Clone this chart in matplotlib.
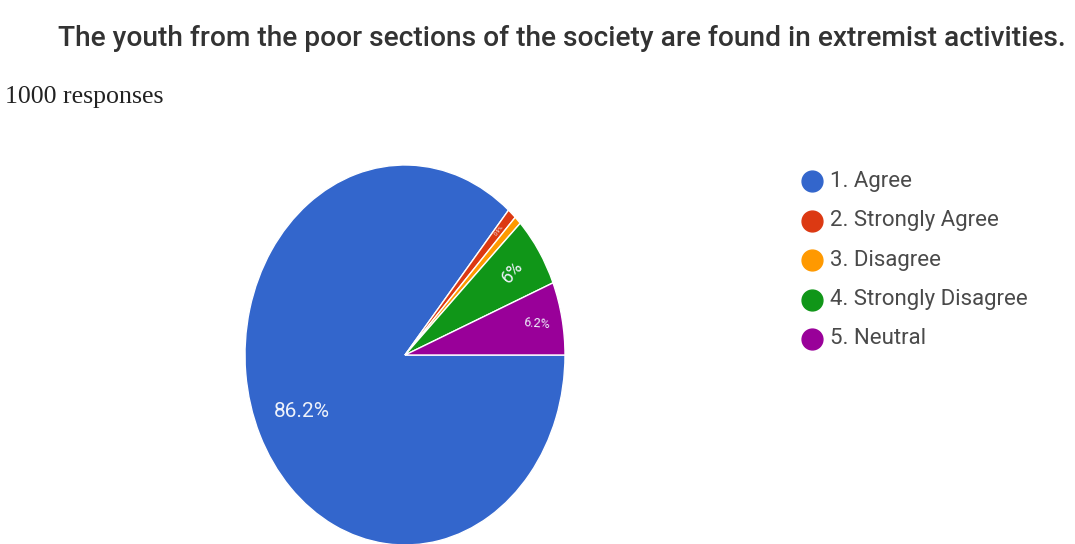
import matplotlib
matplotlib.use('Agg')
import numpy as np
import matplotlib.pyplot as plt
from matplotlib.lines import Line2D

categories = ['1. Agree', '2. Strongly Agree', '3. Disagree', '4. Strongly Disagree', '5. Neutral']
shares = [86.2, 0.9, 0.7, 6.0, 6.2]
pct_labels = ['86.2%', '0.9%', '', '6%', '6.2%']
colors = ['#3366cc', '#dc3912', '#ff9900', '#109618', '#990099']
title = 'The youth from the poor sections of the society are found in extremist activities.'
subtitle = '1000 responses'

W, H = 1075, 544
fig = plt.figure(figsize=(W / 100, H / 100), dpi=100)

# the screenshot is stretched: the pie is 160 px per unit across and 190 px per unit down
cx, cy, rx, ry = 405, 355, 160, 190
lim = 1.05
ax = fig.add_axes([(cx - rx * lim) / W, (H - cy - ry * lim) / H, 2 * rx * lim / W, 2 * ry * lim / H])
wedges, _ = ax.pie(shares, colors=colors, startangle=0, counterclock=False,
                   wedgeprops=dict(edgecolor='white', linewidth=1))
ax.set_aspect('auto')
ax.set_xlim(-lim, lim)
ax.set_ylim(-lim, lim)

# (radius, fontsize, rotation) for the labels inside the slices
label_style = [(0.71, 15, 0), (0.88, 4, 52), None, (0.8, 13, 50), (0.84, 9, -5)]
for w, lab, st in zip(wedges, pct_labels, label_style):
    if st is None or not lab:
        continue
    r, fs, rot = st
    mid = np.deg2rad((w.theta1 + w.theta2) / 2)
    ax.text(r * np.cos(mid), r * np.sin(mid), lab, ha='center', va='center',
            fontsize=fs, rotation=rot, color='#eef2fa', family='Roboto')

# legend drawn by hand to sit where the screenshot has it
leg_texts = []
for i, (lab, col) in enumerate(zip(categories, colors)):
    y = 1 - (181 + i * 39.5) / H
    fig.add_artist(Line2D([812 / W], [y], marker='o', markersize=15, color=col,
                          linestyle='none', transform=fig.transFigure))
    leg_texts.append(fig.text(830 / W, y, lab, fontsize=12.5, color='#4a4a4a',
                              va='center', family='Roboto'))

t1 = fig.text(58 / W, 1 - 38 / H, title, va='center', ha='left', fontsize=20,
              color='#333333', family='Roboto', fontweight='medium')
t2 = fig.text(5 / W, 1 - 97 / H, subtitle, va='center', ha='left', fontsize=14,
              color='#222222', family='Liberation Serif')

# squeeze the font sizes so the texts span the same width as in the screenshot
fig.canvas.draw()
rend = fig.canvas.get_renderer()
for t, target in [(t1, 1010), (t2, 160)]:
    wpx = t.get_window_extent(rend).width
    t.set_fontsize(t.get_fontsize() * target / wpx)
scale = 198 / leg_texts[3].get_window_extent(rend).width
for t in leg_texts:
    t.set_fontsize(t.get_fontsize() * scale)

fig.savefig('out.png', dpi=100)
